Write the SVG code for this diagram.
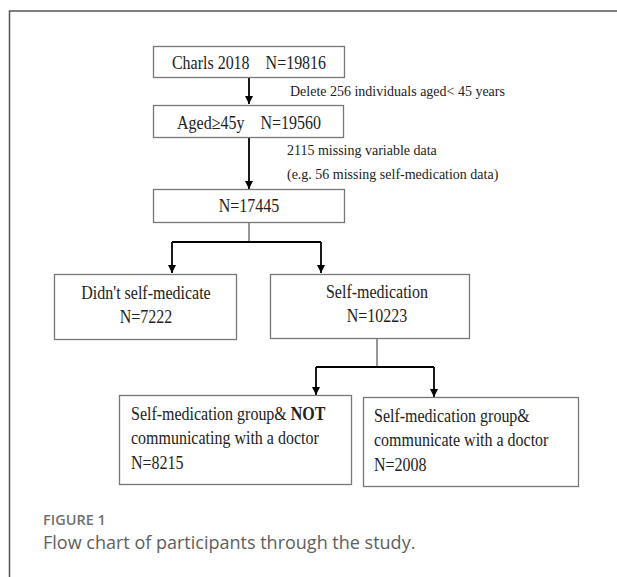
<svg xmlns="http://www.w3.org/2000/svg" width="617" height="577" viewBox="0 0 617 577">
<defs>
<style>
.box{fill:#fff;stroke:#777;stroke-width:1.3}
.t{font-family:"Liberation Serif","Times New Roman",serif;font-size:16px;fill:#222}
.c{text-anchor:middle}
.lbl{font-family:"Liberation Serif","Times New Roman",serif;font-size:14px;fill:#222}
.ln{fill:none;stroke:#444;stroke-width:1.1}
.ar{fill:none;stroke:#000;stroke-width:1.8}
.cap1{font-family:"Open Sans","Noto Sans",sans-serif;font-size:14.5px;fill:#707070;font-weight:600}
.cap2{font-family:"Open Sans","Noto Sans",sans-serif;font-size:18px;fill:#606060}
</style>
<marker id="ah" viewBox="0 0 10 10" refX="10" refY="5" markerWidth="4.5" markerHeight="4.5" markerUnits="strokeWidth" orient="auto">
<path d="M0,0 L10,5 L0,10 Z" fill="#000"/>
</marker>
</defs>
<rect width="617" height="577" fill="#fff"/>
<path d="M9.5,577 V11 H617" fill="none" stroke="#555" stroke-width="1.5"/>

<g id="connectors">
<line class="ar" x1="249" y1="78" x2="249" y2="104" marker-end="url(#ah)"/>
<line class="ar" x1="249" y1="137" x2="249" y2="189" marker-end="url(#ah)"/>
<polyline class="ln" points="249,222 249,242"/>
<polyline class="ar" points="172,242 321,242"/>
<line class="ar" x1="172" y1="242" x2="172" y2="273" marker-end="url(#ah)"/>
<line class="ar" x1="321" y1="242" x2="321" y2="273" marker-end="url(#ah)"/>
<polyline class="ln" points="377,338 377,367"/>
<polyline class="ar" points="316,367 434,367"/>
<line class="ar" x1="316" y1="367" x2="316" y2="395" marker-end="url(#ah)"/>
<line class="ar" x1="434" y1="367" x2="434" y2="397" marker-end="url(#ah)"/>
<g transform="translate(290,96) scale(1,1.1)"><text class="lbl">Delete 256 individuals aged&lt; 45 years</text></g>
<g transform="translate(287,155) scale(1,1.1)"><text class="lbl">2115 missing variable data</text></g>
<g transform="translate(287,179) scale(1,1.1)"><text class="lbl">(e.g. 56 missing self-medication data)</text></g>
</g>

<g id="n1">
<rect class="box" x="153.5" y="46.5" width="191" height="31"/>
<g transform="translate(249,68.5) scale(1,1.12)"><text class="t c" xml:space="preserve">Charls 2018    N=19816</text></g>
</g>
<g id="n2">
<rect class="box" x="153.5" y="105.5" width="190" height="32"/>
<g transform="translate(249,128.5) scale(1,1.12)"><text class="t c" xml:space="preserve">Aged≥45y    N=19560</text></g>
</g>
<g id="n3">
<rect class="box" x="153.5" y="189.5" width="191" height="33"/>
<g transform="translate(249,212) scale(1,1.12)"><text class="t c">N=17445</text></g>
</g>
<g id="n4">
<rect class="box" x="54.5" y="274.5" width="182" height="65"/>
<g transform="translate(146,299) scale(1,1.12)"><text class="t c">Didn't self-medicate</text></g>
<g transform="translate(146,323) scale(1,1.12)"><text class="t c">N=7222</text></g>
</g>
<g id="n5">
<rect class="box" x="270.5" y="274.5" width="199" height="64"/>
<g transform="translate(377,298) scale(1,1.12)"><text class="t c">Self-medication</text></g>
<g transform="translate(377,322) scale(1,1.12)"><text class="t c">N=10223</text></g>
</g>
<g id="n6">
<rect class="box" x="119.5" y="395.5" width="232" height="89"/>
<g transform="translate(131,420) scale(1,1.12)"><text class="t">Self-medication group&amp; <tspan font-weight="bold">NOT</tspan></text></g>
<g transform="translate(131,444) scale(1,1.12)"><text class="t">communicating with a doctor</text></g>
<g transform="translate(131,469) scale(1,1.12)"><text class="t">N=8215</text></g>
</g>
<g id="n7">
<rect class="box" x="363.5" y="397.5" width="215" height="89"/>
<g transform="translate(374,422) scale(1,1.12)"><text class="t">Self-medication group&amp;</text></g>
<g transform="translate(374,446) scale(1,1.12)"><text class="t">communicate with a doctor</text></g>
<g transform="translate(374,471) scale(1,1.12)"><text class="t">N=2008</text></g>
</g>

<text class="cap1" x="43" y="525">FIGURE 1</text>
<text class="cap2" x="43" y="549">Flow chart of participants through the study.</text>
</svg>
